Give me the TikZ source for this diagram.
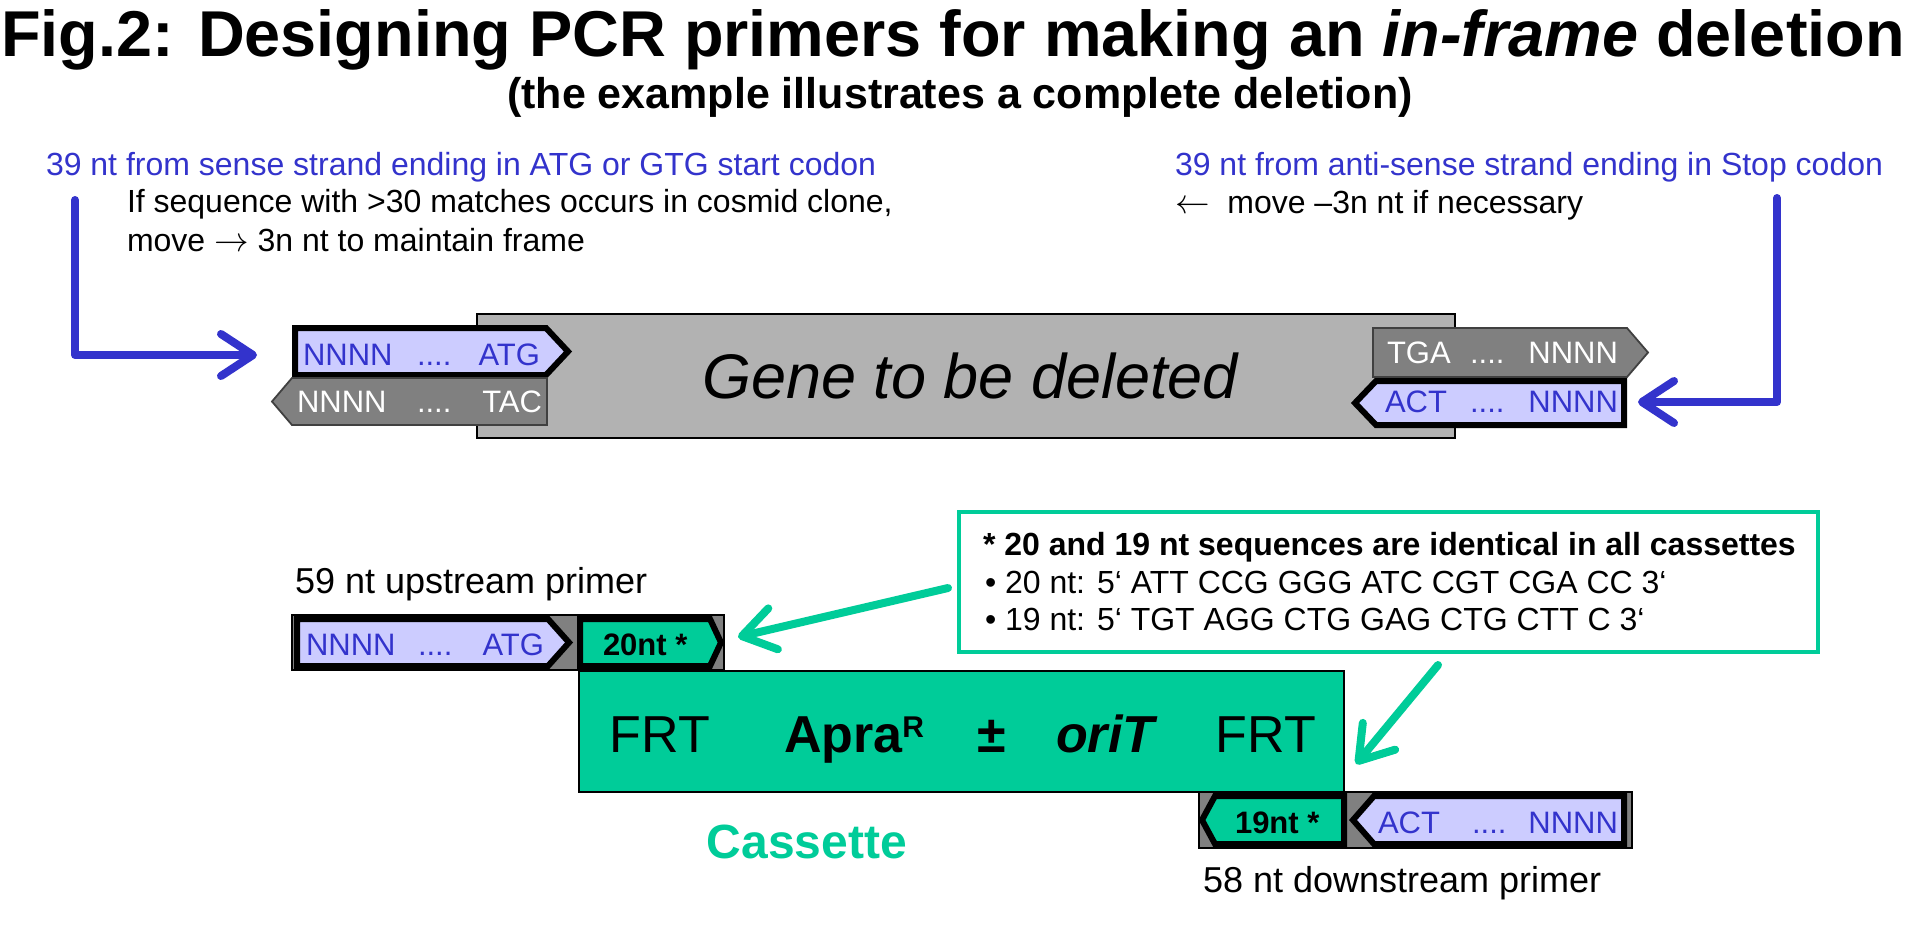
\documentclass[tikz,border=0pt]{standalone}
\usepackage{fontspec}
\setmainfont{Liberation Sans}
\usetikzlibrary{arrows.meta}
\definecolor{myblue}{HTML}{3333CC}
\definecolor{lblue}{HTML}{CCCCFF}
\definecolor{genegray}{HTML}{B2B2B2}
\definecolor{dgray}{HTML}{808080}
\definecolor{mygreen}{HTML}{00CC99}
\newcommand\myfs[1]{\fontsize{#1}{#1}\selectfont}
\begin{document}
\begin{tikzpicture}[x=0.5pt,y=-0.5pt,
  txt/.style={inner sep=0pt,outer sep=0pt},
  lab/.style={txt,font=\myfs{15.5}},
  body/.style={txt,font=\myfs{16}},
  bstrand/.style={fill=lblue,draw=black,line width=3pt,line join=miter},
  gstrand/.style={fill=dgray,draw=black!75,line width=0.9pt},
  cstrand/.style={fill=mygreen,draw=black,line width=3pt,line join=miter},
  primerbg/.style={fill=dgray,draw=black,line width=0.8pt},
  bluearrow/.style={draw=myblue,line width=4pt,line cap=round,line join=round,
    -{Straight Barb[length=16pt,width=21pt,round]}},
  greenarrow/.style={draw=mygreen,line width=4pt,line cap=round,line join=round,
    -{Straight Barb[length=16pt,width=21pt,round]}}]
\useasboundingbox (0,0) rectangle (1930,948);
\fill[white] (0,0) rectangle (1930,948);

% titles
\node[txt,anchor=base] (title) at (953,56) {\myfs{32.4}\bfseries Fig.2: Designing PCR primers for making an \textit{in-frame} deletion};
\node[txt,anchor=base] (subtitle) at (960,108) {\myfs{21.5}\bfseries (the example illustrates a complete deletion)};

% upper texts
\node[body,anchor=base west,text=myblue] (senselbl) at (46,175) {39 nt from sense strand ending in ATG or GTG start codon};
\node[body,anchor=base west] (sensenote1) at (127,212) {If sequence with >30 matches occurs in cosmid clone,};
\node[body,anchor=base west] (sensenote2) at (127,251) {move \smash{\(\rightarrow\)} 3n nt to maintain frame};
\node[body,anchor=base west,text=myblue] (antilbl) at (1175,175) {39 nt from anti-sense strand ending in Stop codon};
\node[body,anchor=base west] (antinote) at (1175,213) {\smash{\(\leftarrow\)}\ \ move –3n nt if necessary};

% gene
\draw[fill=genegray,draw=black,line width=1pt] (477,314) rectangle (1455,438);
\node[txt,anchor=base] (gene) at (970,398) {\myfs{31.5}\itshape Gene to be deleted};

% left strands
\draw[bstrand] (295,328) -- (546,328) -- (568,351.5) -- (546,375) -- (295,375) -- cycle;
\draw[gstrand] (547,378) -- (292,378) -- (272,401.5) -- (292,425) -- (547,425) -- cycle;
\node[lab,anchor=base west,text=myblue] (tl1) at (303,365) {NNNN};
\node[lab,anchor=base west,text=myblue] (tl2) at (417,365) {....};
\node[lab,anchor=base east,text=myblue] (tl3) at (540,365) {ATG};
\node[lab,anchor=base west,text=white] (bl1) at (297,412) {NNNN};
\node[lab,anchor=base west,text=white] (bl2) at (417,412) {....};
\node[lab,anchor=base east,text=white] (bl3) at (542,412) {TAC};

% right strands
\draw[gstrand] (1373,328) -- (1627,328) -- (1648,352.5) -- (1627,377) -- (1373,377) -- cycle;
\draw[bstrand] (1624,381) -- (1376,381) -- (1355,403) -- (1376,425) -- (1624,425) -- cycle;
\node[lab,anchor=base west,text=white] (tr1) at (1387,363) {TGA};
\node[lab,anchor=base west,text=white] (tr2) at (1470,363) {....};
\node[lab,anchor=base east,text=white] (tr3) at (1618,363) {NNNN};
\node[lab,anchor=base west,text=myblue] (br1) at (1385,412) {ACT};
\node[lab,anchor=base west,text=myblue] (br2) at (1470,412) {....};
\node[lab,anchor=base east,text=myblue] (br3) at (1618,412) {NNNN};

% blue L arrows
\coordinate (sensestart) at (75,200);
\coordinate (sensecorner) at (75,355);
\coordinate (sensetarget) at (257,355);
\draw[bluearrow] (sensestart) -- (sensecorner) -- (sensetarget);
\coordinate (antistart) at (1777,198);
\coordinate (anticorner) at (1777,402);
\coordinate (antitarget) at (1638,402);
\draw[bluearrow] (antistart) -- (anticorner) -- (antitarget);

% cassette
\draw[fill=mygreen,draw=black,line width=0.7pt] (579,671) rectangle (1344,792);
\node[txt,anchor=base] (frt1) at (660,752) {\myfs{26}FRT};
\node[txt,anchor=base west] (apra) at (784,752) {\myfs{26}\bfseries Apra\raisebox{7.5pt}{\myfs{15}R}};
\node[txt,anchor=base] (pm) at (992,752) {\myfs{26}\bfseries ±};
\node[txt,anchor=base west] (orit) at (1056,752) {\myfs{26}\bfseries\itshape oriT};
\node[txt,anchor=base] (frt2) at (1266,752) {\myfs{26}FRT};
\node[txt,anchor=base,text=mygreen] (cass) at (807,858) {\myfs{24}\bfseries Cassette};

% upstream primer
\node[txt,anchor=base west] (uplbl) at (295,593) {\myfs{18}59 nt upstream primer};
\draw[primerbg] (292,615) rectangle (724,670);
\draw[bstrand] (297,619) -- (548,619) -- (569,642.5) -- (548,666) -- (297,666) -- cycle;
\draw[cstrand] (580,619) -- (710,619) -- (721,642.5) -- (710,666) -- (580,666) -- cycle;
\node[lab,anchor=base west,text=myblue] (up1) at (306,655) {NNNN};
\node[lab,anchor=base west,text=myblue] (up2) at (418,655) {....};
\node[lab,anchor=base east,text=myblue] (up3) at (544,655) {ATG};
\node[lab,anchor=base west] (up20) at (603,655) {\bfseries 20nt *};

% downstream primer
\draw[primerbg] (1199,792) rectangle (1632,848);
\draw[cstrand] (1344,796) -- (1215,796) -- (1202,820) -- (1215,844) -- (1344,844) -- cycle;
\draw[bstrand] (1624,796) -- (1374,796) -- (1353,820) -- (1374,844) -- (1624,844) -- cycle;
\node[lab,anchor=base west] (dn19) at (1235,833) {\bfseries 19nt *};
\node[lab,anchor=base west,text=myblue] (dn1) at (1378,833) {ACT};
\node[lab,anchor=base west,text=myblue] (dn2) at (1472,833) {....};
\node[lab,anchor=base east,text=myblue] (dn3) at (1618,833) {NNNN};
\node[txt,anchor=base west] (dnlbl) at (1203,892) {\myfs{18}58 nt downstream primer};

% callout
\node[draw=mygreen,line width=1.75pt,fill=white,minimum width=429.5pt,minimum height=70pt,inner sep=0pt] (callout) at (1388.5,582) {};
\node[body,anchor=base west] (c1) at (983,555) {\bfseries * 20 and 19 nt sequences are identical in all cassettes};
\node[body,anchor=base west] (c2) at (985,593) {• 20 nt: 5\symbol{96} ATT CCG GGG ATC CGT CGA CC 3\symbol{96}};
\node[body,anchor=base west] (c3) at (985,630) {• 19 nt: 5\symbol{96} TGT AGG CTG GAG CTG CTT C 3\symbol{96}};

% green arrows
\coordinate (g1start) at (948,588);
\coordinate (g1end) at (738,637);
\draw[greenarrow] (g1start) -- (g1end);
\coordinate (g2start) at (1438,665);
\coordinate (g2end) at (1356,764);
\draw[greenarrow] (g2start) -- (g2end);
\end{tikzpicture}
\end{document}
